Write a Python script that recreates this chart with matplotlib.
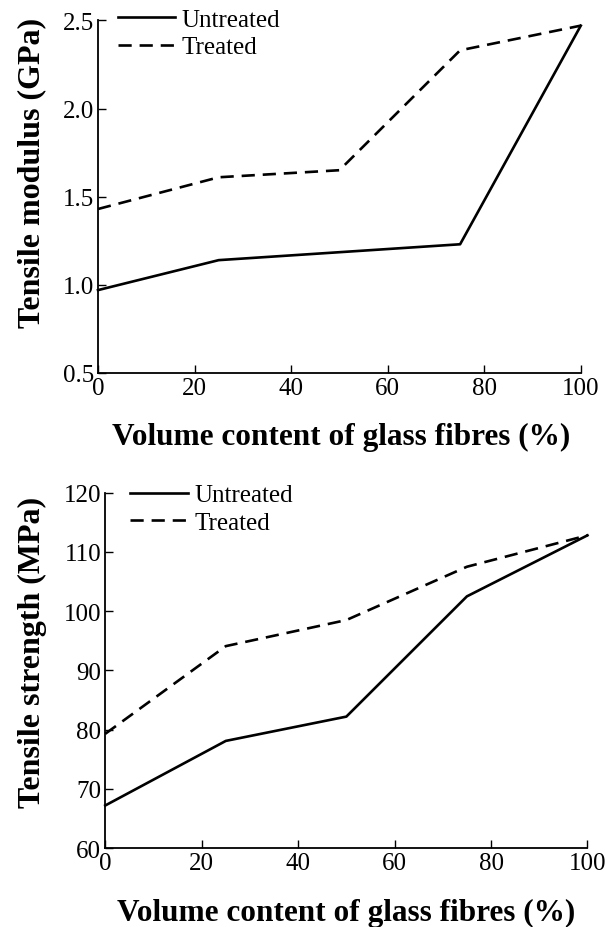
import matplotlib
matplotlib.use('Agg')
import matplotlib.pyplot as plt

plt.rcParams['font.family'] = ['Liberation Serif', 'DejaVu Serif']

# --- Data ---
volume = [0, 25, 50, 75, 100]
modulus_untreated = [0.97, 1.14, 1.185, 1.23, 2.47]
modulus_treated = [1.43, 1.61, 1.65, 2.33, 2.47]
strength_untreated = [67.2, 78.1, 82.2, 102.5, 112.8]
strength_treated = [79.3, 94.1, 98.5, 107.5, 112.8]

xticks = [0, 20, 40, 60, 80, 100]
mod_ticks = [0.5, 1.0, 1.5, 2.0, 2.5]
str_ticks = [60, 70, 80, 90, 100, 110, 120]

fig = plt.figure(figsize=(6.05, 9.28), dpi=100)
ax1 = fig.add_axes([0.162, 0.597, 0.798, 0.380])
ax2 = fig.add_axes([0.174, 0.085, 0.797, 0.383])


def style(ax, yticks, ylabel, fmt, ylab_y, xlab_x, xlab_y, leg_x, leg_y):
    ax.set_xlim(0, 100)
    ax.set_ylim(yticks[0], yticks[-1])
    ax.set_xticks(xticks)
    ax.set_yticks(yticks)
    ax.set_yticklabels([fmt.format(t) for t in yticks])
    ax.spines['top'].set_visible(False)
    ax.spines['right'].set_visible(False)
    ax.spines['left'].set_linewidth(1.3)
    ax.spines['bottom'].set_linewidth(1.3)
    ax.tick_params(direction='in', length=6, width=1.0, labelsize=18, pad=3)
    ax.set_xlabel('Volume content of glass fibres (%)', fontsize=22.5,
                  fontweight='bold', va='center')
    ax.set_ylabel(ylabel, fontsize=23, fontweight='bold', va='center')
    ax.yaxis.set_label_coords(0.053, ylab_y, transform=fig.transFigure)
    ax.xaxis.set_label_coords(xlab_x, xlab_y, transform=fig.transFigure)
    ax.legend(loc='upper left', frameon=False, fontsize=18,
              handlelength=2.3, handletextpad=0.25, borderaxespad=0.0,
              borderpad=0.0, labelspacing=0.2, bbox_to_anchor=(leg_x, leg_y))


ax1.plot(volume, modulus_untreated, color='black', lw=1.9, ls='-', label='Untreated')
ax1.plot(volume, modulus_treated, color='black', lw=1.9, ls=(0, (5, 3)), label='Treated')
style(ax1, mod_ticks, 'Tensile modulus (GPa)', '{:.1f}', 0.814, 0.564, 1 - 437 / 928,
      0.041, 1.034)

ax2.plot(volume, strength_untreated, color='black', lw=1.9, ls='-', label='Untreated')
ax2.plot(volume, strength_treated, color='black', lw=1.9, ls=(0, (5, 3)), label='Treated')
style(ax2, str_ticks, 'Tensile strength (MPa)', '{:.0f}', 0.297, 0.572, 1 - 913 / 928,
      0.052, 1.025)

for ax in (ax1, ax2):
    for l in ax.lines:
        l.set_clip_on(False)

fig.savefig('out.png', dpi=100, facecolor='white')
plt.close(fig)
